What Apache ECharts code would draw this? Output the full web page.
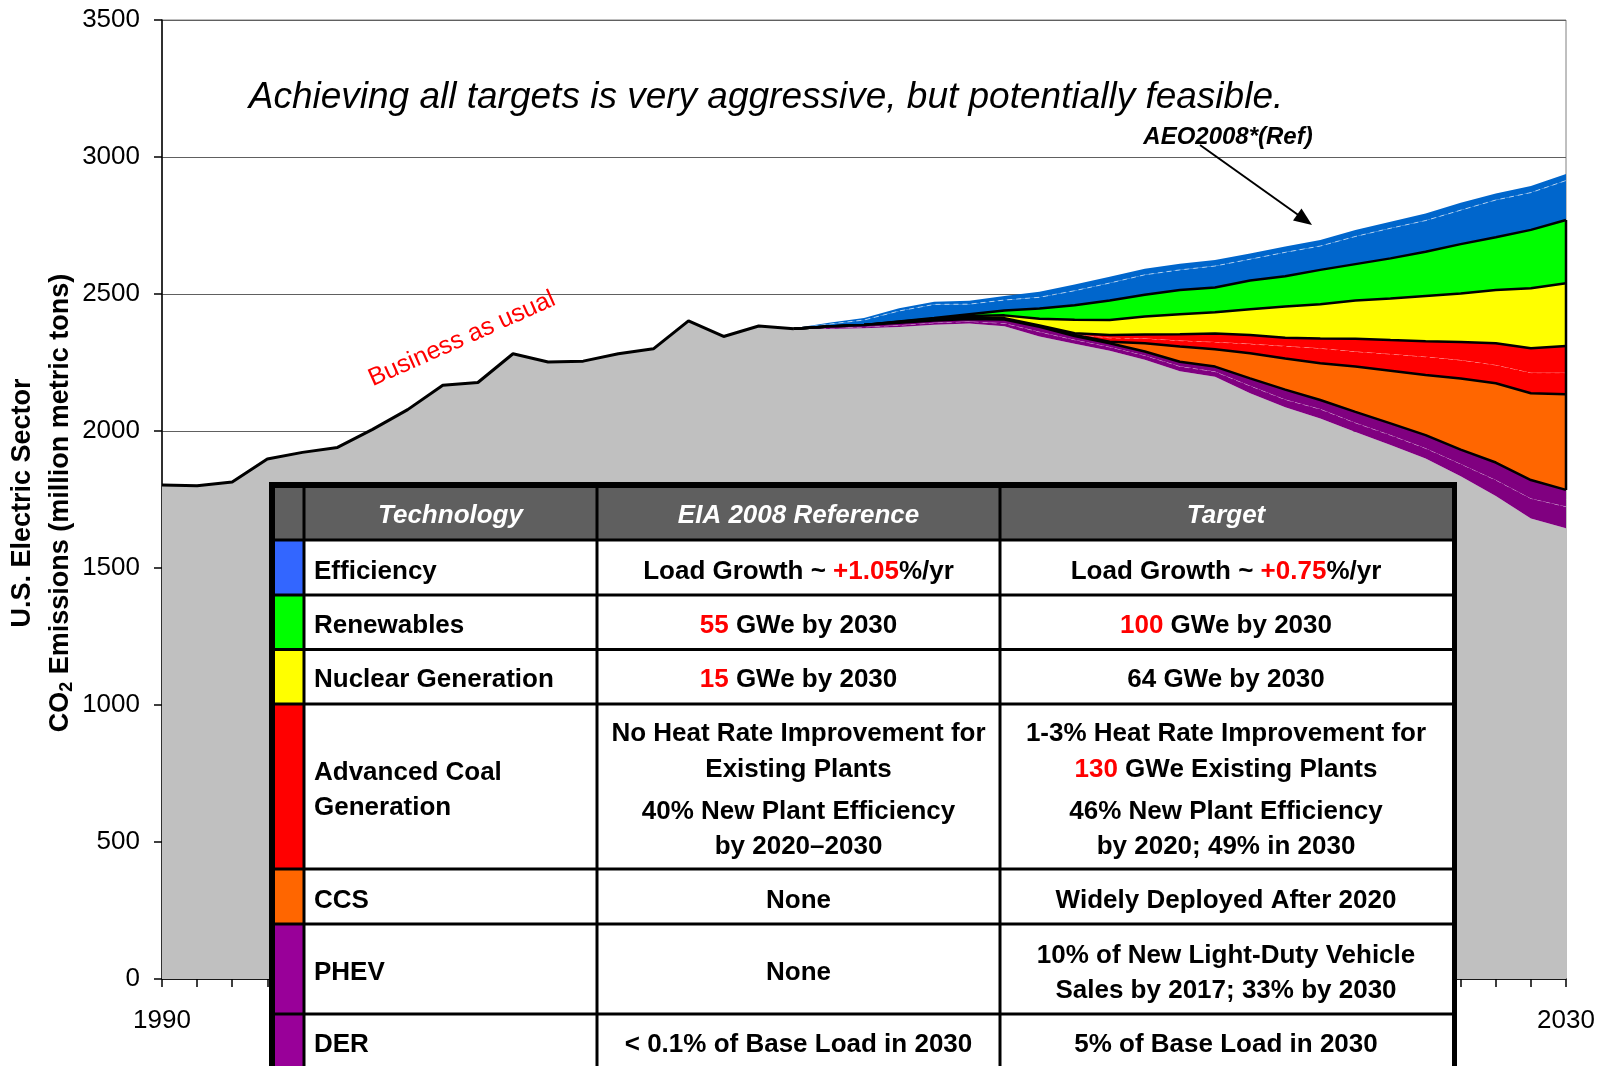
<!DOCTYPE html>
<html>
<head>
<meta charset="utf-8">
<title>U.S. Electric Sector CO2 Emissions</title>
<script src="https://cdn.jsdelivr.net/npm/echarts@6/dist/echarts.min.js"></script>
<style>
  html, body { margin: 0; padding: 0; background: #fff; }
  #chart { width: 1609px; height: 1066px; }
</style>
</head>
<body>
<div id="chart"></div>
<script>
// x categories
var years = ['1990', '1991', '1992', '1993', '1994', '1995', '1996', '1997', '1998', '1999',
  '2000', '2001', '2002', '2003', '2004', '2005', '2006', '2007', '2008', '2009',
  '2010', '2011', '2012', '2013', '2014', '2015', '2016', '2017', '2018', '2019',
  '2020', '2021', '2022', '2023', '2024', '2025', '2026', '2027', '2028', '2029', '2030'];
var yTicks = [0, 500, 1000, 1500, 2000, 2500, 3000, 3500];

// history 1990-2008 (business as usual line)
var pastEmissions = [1803, 1800, 1814, 1898, 1922, 1940, 2006, 2078, 2167, 2177,
  2282, 2252, 2255, 2282, 2300, 2402, 2345, 2383, 2373];
// remaining emissions with all targets met, 2009-2030
var baseTail = [2372, 2375, 2380, 2388, 2392, 2382, 2345, 2318, 2293, 2260, 2218,
  2198, 2138, 2087, 2046, 1996, 1949, 1900, 1835, 1763, 1681, 1645];

// reduction wedges 2008-2030 (bottom to top)
var der = [0, 4, 5, 6, 7, 8, 11, 17, 15, 14, 16, 18, 19, 27, 28, 34, 34, 36, 37, 45, 58, 73, 79];
var phev = [0, 5, 7, 9, 8, 9, 14, 18, 14, 13, 14, 17, 18, 27, 36, 33, 40, 43, 48, 52, 64, 67, 61];
var ccs = [0, 0, 0, 0, 0, 0, 0, 0, 3, 6, 30, 55, 63, 92, 114, 134, 165, 192, 219, 260, 289, 317, 349];
var coalRetrofit = [0, 0, 0, 1, 1, 2, 2, 2, 3, 14, 18, 22, 27, 34, 45, 55, 55, 61, 67, 67, 67, 75, 79];
var coalNew = [0, 0, 0, 1, 2, 3, 3, 3, 4, 10, 14, 23, 31, 32, 30, 36, 47, 51, 57, 66, 79, 89, 97];
var nuclear = [0, 0, 0, 2, 4, 6, 10, 25, 49, 55, 66, 73, 77, 94, 114, 125, 139, 152, 165, 177, 195, 219, 229];
var renewables = [0, 0, 0, 1, 2, 6, 18, 37, 53, 71, 79, 89, 91, 105, 111, 125, 133, 146, 161, 180, 192, 213, 231];
var efficiencyA = [0, 9, 18, 38, 50, 37, 38, 41, 53, 64, 73, 73, 78, 78, 87, 87, 101, 110, 114, 124, 136, 136, 144];
var efficiencyB = [2, 5, 7, 10, 10, 12, 15, 20, 23, 23, 22, 22, 22, 21, 21, 22, 24, 24, 26, 27, 24, 24, 24];

// table contents
var swatches = ['#5F5F5F', '#3366FF', '#00FF00', '#FFFF00', '#FF0000', '#FF6600', '#990099', '#990099'];
var techCol = ['Technology', 'Efficiency', 'Renewables', 'Nuclear Generation', 'Advanced Coal\nGeneration', 'CCS', 'PHEV', 'DER'];
var eiaCol = [
  ['EIA 2008 Reference'],
  ['Load Growth ~ {r|+1.05}%/yr'],
  ['{r|55} GWe by 2030'],
  ['{r|15} GWe by 2030'],
  ['No Heat Rate Improvement for', 'Existing Plants', '40% New Plant Efficiency', 'by 2020\u20132030'],
  ['None'],
  ['None'],
  ['< 0.1% of Base Load in 2030']
];
var targetCol = [
  ['Target'],
  ['Load Growth ~ {r|+0.75}%/yr'],
  ['{r|100} GWe by 2030'],
  ['64 GWe by 2030'],
  ['1-3% Heat Rate Improvement for', '{r|130} GWe Existing Plants', '46% New Plant Efficiency', 'by 2020; 49% in 2030'],
  ['Widely Deployed After 2020'],
  ['10% of New Light-Duty Vehicle', 'Sales by 2017; 33% by 2030'],
  ['5% of Base Load in 2030']
];

var FONT = 'Arial, "Liberation Sans", sans-serif';

var chart = echarts.init(document.getElementById('chart'));

var lead = pastEmissions.length - 1; // wedges start at 2008
function pad(arr) {
  var out = [];
  for (var i = 0; i < lead; i++) out.push('-');
  return out.concat(arr);
}
var histLine = pastEmissions.slice();
for (var i = 0; i < baseTail.length; i++) histLine.push('-');

// right hand edge of the wedges at 2030
var li = der.length - 1;
var orangeBottom = baseTail[baseTail.length - 1] + der[li] + phev[li];
var greenTop = orangeBottom + ccs[li] + coalRetrofit[li] + coalNew[li] + nuclear[li] + renewables[li];

function wedge(name, data, color, line, z) {
  return {
    name: name,
    type: 'line',
    stack: 'total',
    data: pad(data),
    symbol: 'none',
    z: z,
    lineStyle: line,
    areaStyle: { color: color, opacity: 1 },
    itemStyle: { color: color }
  };
}
var blackLine = { color: '#000', width: 2.5 };
var whiteDash = { color: 'rgba(255,255,255,0.6)', width: 1, type: [5, 4] };
var noLine = { width: 0 };

// ---- table graphics ----
var colX = [275, 304, 597, 1000, 1452];
var rowY = [488, 540, 595, 649.5, 704, 869, 924, 1014, 1100];
var rowTextY = [516, 572, 626, 680, 790, 901, 973, 1045];
var graphics = [];

graphics.push({
  type: 'rect', z: 100,
  shape: { x: 269, y: 482, width: 1188, height: 640 },
  style: { fill: '#000' }
});
for (var r = 0; r < 8; r++) {
  for (var c = 0; c < 4; c++) {
    var x0 = colX[c] + (c > 0 ? 1.5 : 0);
    var x1 = colX[c + 1] - (c < 3 ? 1.5 : 0);
    var y0 = rowY[r] + (r > 0 ? 1.5 : 0);
    var y1 = rowY[r + 1] - 1.5;
    var fill = r === 0 ? '#5F5F5F' : (c === 0 ? swatches[r] : '#fff');
    graphics.push({
      type: 'rect', z: 101,
      shape: { x: x0, y: y0, width: x1 - x0, height: y1 - y0 },
      style: { fill: fill }
    });
  }
}

var bodyFont = 'bold 26px ' + FONT;
var headFont = 'italic bold 26px ' + FONT;
function cellText(txt, x, y, align, isHead) {
  return {
    type: 'text', z: 102, x: x, y: y,
    style: {
      text: txt,
      font: isHead ? headFont : bodyFont,
      fill: isHead ? '#fff' : '#000',
      align: align, textAlign: align,
      verticalAlign: 'middle', textVerticalAlign: 'middle',
      lineHeight: 35,
      rich: {
        r: { font: bodyFont, fill: '#FF0000' }
      }
    }
  };
}
function lineOffsets(n) {
  if (n === 1) return [0];
  if (n === 2) return [-17.5, 17.5];
  return [-56, -20, 22, 57];
}
for (var r2 = 0; r2 < 8; r2++) {
  var head = r2 === 0;
  if (head) {
    graphics.push(cellText(techCol[0], (colX[1] + colX[2]) / 2, rowTextY[0], 'center', true));
  } else {
    graphics.push(cellText(techCol[r2], 314, rowTextY[r2], 'left', false));
  }
  [eiaCol, targetCol].forEach(function (col, k) {
    var cx = (colX[2 + k] + colX[3 + k]) / 2;
    var lines = col[r2];
    var offs = lineOffsets(lines.length);
    lines.forEach(function (t, j) {
      graphics.push(cellText(t, cx, rowTextY[r2] + offs[j], 'center', head));
    });
  });
}

// annotations
graphics.push({
  type: 'text', z: 50, x: 766, y: 98,
  style: {
    text: 'Achieving all targets is very aggressive, but potentially feasible.',
    font: 'italic 37px ' + FONT, fill: '#000',
    align: 'center', textAlign: 'center', verticalAlign: 'middle', textVerticalAlign: 'middle'
  }
});
graphics.push({
  type: 'text', z: 50, x: 1228, y: 137,
  style: {
    text: 'AEO2008*(Ref)',
    font: 'italic bold 24px ' + FONT, fill: '#000',
    align: 'center', textAlign: 'center', verticalAlign: 'middle', textVerticalAlign: 'middle'
  }
});
graphics.push({
  type: 'line', z: 50,
  shape: { x1: 1200, y1: 145, x2: 1299, y2: 215.5 },
  style: { stroke: '#000', lineWidth: 2 }
});
graphics.push({
  type: 'polygon', z: 50,
  shape: { points: [[1312, 225], [1293, 220.5], [1301.5, 208.5]] },
  style: { fill: '#000' }
});
graphics.push({
  type: 'text', z: 50, x: 462, y: 339, rotation: 24 * Math.PI / 180,
  style: {
    text: 'Business as usual',
    font: '25px ' + FONT, fill: '#FF0000',
    align: 'center', textAlign: 'center', verticalAlign: 'middle', textVerticalAlign: 'middle'
  }
});
// y axis title, two rotated lines
graphics.push({
  type: 'text', z: 50, x: 23, y: 503, rotation: Math.PI / 2,
  style: {
    text: 'U.S. Electric Sector',
    font: 'bold 27px ' + FONT, fill: '#000',
    align: 'center', textAlign: 'center', verticalAlign: 'middle', textVerticalAlign: 'middle'
  }
});
graphics.push({
  type: 'text', z: 50, x: 61, y: 503, rotation: Math.PI / 2,
  style: {
    text: '{a|CO}{s|2}{a| Emissions (million metric tons)}',
    font: 'bold 27px ' + FONT, fill: '#000',
    align: 'center', textAlign: 'center', verticalAlign: 'middle', textVerticalAlign: 'middle',
    rich: {
      a: { font: 'bold 27px ' + FONT, fill: '#000', lineHeight: 30 },
      s: { font: 'bold 18px ' + FONT, fill: '#000', lineHeight: 18, verticalAlign: 'bottom' }
    }
  }
});

var options = {
  animation: false,
  backgroundColor: '#fff',
  textStyle: { fontFamily: FONT },
  grid: {
    left: 162, right: 43, top: 20, bottom: 87,
    show: true, borderColor: '#808080', borderWidth: 1
  },
  xAxis: {
    type: 'category',
    data: years,
    boundaryGap: false,
    axisLine: { lineStyle: { color: '#000', width: 1.5 } },
    axisTick: { show: true, interval: 0, length: 8, lineStyle: { color: '#000', width: 1.5 } },
    axisLabel: {
      interval: function (idx) { return idx === 0 || idx === years.length - 1; },
      color: '#000', fontSize: 26, margin: 29, fontFamily: FONT
    },
    splitLine: { show: false }
  },
  yAxis: {
    type: 'value',
    min: yTicks[0], max: yTicks[yTicks.length - 1], interval: 500,
    axisLine: { show: true, lineStyle: { color: '#000', width: 1.5 } },
    axisTick: { show: true, length: 8, lineStyle: { color: '#000', width: 1.5 } },
    axisLabel: {
      color: '#000', fontSize: 26, margin: 22, fontFamily: FONT,
      formatter: function (v) { return String(v); }
    },
    splitLine: { show: true, lineStyle: { color: '#606060', width: 1 } }
  },
  series: [
    {
      name: 'Remaining',
      type: 'line',
      stack: 'total',
      data: pastEmissions.concat(baseTail),
      symbol: 'none',
      z: 2,
      lineStyle: noLine,
      areaStyle: { color: '#C0C0C0', opacity: 1 }
    },
    wedge('DER', der, '#800080', whiteDash, 3),
    wedge('PHEV', phev, '#800080', blackLine, 9),
    wedge('CCS', ccs, '#FF6600', blackLine, 8),
    wedge('Coal retrofit', coalRetrofit, '#FF0000', whiteDash, 3),
    wedge('Coal new', coalNew, '#FF0000', blackLine, 7),
    wedge('Nuclear', nuclear, '#FFFF00', blackLine, 6),
    wedge('Renewables', renewables, '#00FF00', blackLine, 5),
    wedge('Efficiency A', efficiencyA, '#0066CC', whiteDash, 3),
    wedge('Efficiency B', efficiencyB, '#0066CC', noLine, 3),
    {
      name: 'History',
      type: 'line',
      data: histLine,
      symbol: 'none',
      z: 10,
      lineStyle: { color: '#000', width: 3 }
    },
    {
      name: 'Edge',
      type: 'line',
      data: [[years[years.length - 1], orangeBottom], [years[years.length - 1], greenTop]],
      symbol: 'none',
      z: 10,
      lineStyle: { color: '#000', width: 2.5 }
    }
  ],
  graphic: { elements: graphics }
};

chart.setOption(options);
</script>
</body>
</html>
